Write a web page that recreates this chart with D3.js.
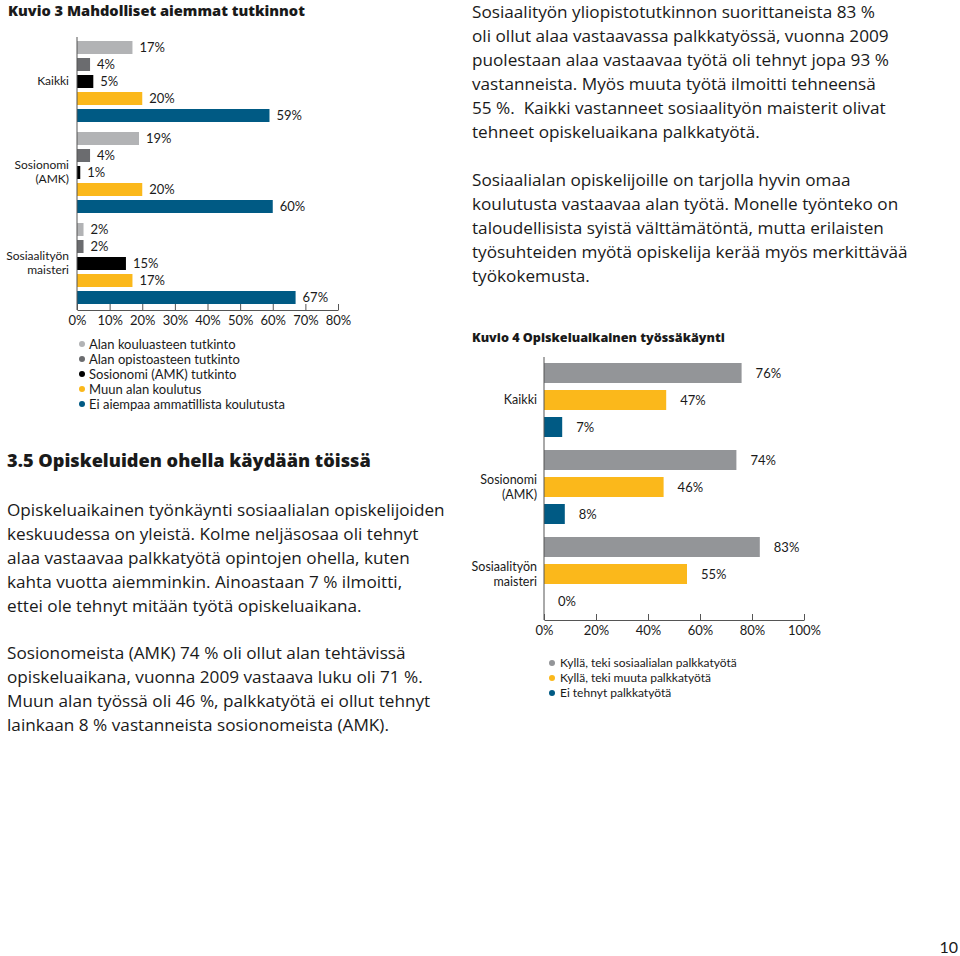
<!DOCTYPE html>
<html>
<head>
<meta charset="utf-8">
<script src="https://cdn.jsdelivr.net/npm/d3@7"></script>
<style>
  html, body { margin: 0; padding: 0; background: #fff; }
  svg { display: block; }
  text { font-family: Lato, "Noto Sans", sans-serif; fill: #1a1a1a; }
  .body { font-family: "Open Sans", "Noto Sans", sans-serif; }
</style>
</head>
<body>
<svg id="page" width="960" height="956"></svg>
<script>
// ---------- Data: Kuvio 3 ----------
const categories3 = [["Kaikki"], ["Sosionomi", "(AMK)"], ["Sosiaalityön", "maisteri"]];
const series3 = ["Alan kouluasteen tutkinto", "Alan opistoasteen tutkinto", "Sosionomi (AMK) tutkinto", "Muun alan koulutus", "Ei aiempaa ammatillista koulutusta"];
const valuesKaikki3 = [17, 4, 5, 20, 59];
const valuesSosionomi3 = [19, 4, 1, 20, 60];
const valuesMaisteri3 = [2, 2, 15, 17, 67];
const ticks3 = [0, 10, 20, 30, 40, 50, 60, 70, 80];
const colors3 = ["#b2b3b5", "#6b6c6f", "#000000", "#fbb81b", "#005a84"];

// ---------- Data: Kuvio 4 ----------
const categories4 = [["Kaikki"], ["Sosionomi", "(AMK)"], ["Sosiaalityön", "maisteri"]];
const series4 = ["Kyllä, teki sosiaalialan palkkatyötä", "Kyllä, teki muuta palkkatyötä", "Ei tehnyt palkkatyötä"];
const valuesKaikki4 = [76, 47, 7];
const valuesSosionomi4 = [74, 46, 8];
const valuesMaisteri4 = [83, 55, 0];
const ticks4 = [0, 20, 40, 60, 80, 100];
const colors4 = ["#939598", "#fbb81b", "#005a84"];

// ---------- Texts ----------
const title3 = "Kuvio 3 Mahdolliset aiemmat tutkinnot";
const title4 = "Kuvio 4 Opiskeluaikainen työssäkäynti";
const heading = "3.5 Opiskeluiden ohella käydään töissä";
const leftPara1 = ["Opiskeluaikainen työnkäynti sosiaalialan opiskelijoiden",
  "keskuudessa on yleistä. Kolme neljäsosaa oli tehnyt",
  "alaa vastaavaa palkkatyötä opintojen ohella, kuten",
  "kahta vuotta aiemminkin. Ainoastaan 7 % ilmoitti,",
  "ettei ole tehnyt mitään työtä opiskeluaikana."];
const leftPara2 = ["Sosionomeista (AMK) 74 % oli ollut alan tehtävissä",
  "opiskeluaikana, vuonna 2009 vastaava luku oli 71 %.",
  "Muun alan työssä oli 46 %, palkkatyötä ei ollut tehnyt",
  "lainkaan 8 % vastanneista sosionomeista (AMK)."];
const rightPara1 = ["Sosiaalityön yliopistotutkinnon suorittaneista 83 %",
  "oli ollut alaa vastaavassa palkkatyössä, vuonna 2009",
  "puolestaan alaa vastaavaa työtä oli tehnyt jopa 93 %",
  "vastanneista. Myös muuta työtä ilmoitti tehneensä",
  "55 %.  Kaikki vastanneet sosiaalityön maisterit olivat",
  "tehneet opiskeluaikana palkkatyötä."];
const rightPara2 = ["Sosiaalialan opiskelijoille on tarjolla hyvin omaa",
  "koulutusta vastaavaa alan työtä. Monelle työnteko on",
  "taloudellisista syistä välttämätöntä, mutta erilaisten",
  "työsuhteiden myötä opiskelija kerää myös merkittävää",
  "työkokemusta."];
const pageNumber = "10";

const svg = d3.select("#page");

// body font size: fitted once so the first body line is as wide as in the reference
const probe = svg.append("text").attr("class", "body").attr("font-size", 16).text(leftPara1[0]);
const bodySize = 16 * 438 / probe.node().getComputedTextLength();
probe.remove();

function para(lines, x, y, lh) {
  const t = svg.append("text").attr("class", "body").attr("font-size", bodySize).attr("xml:space", "preserve");
  lines.forEach((l, i) => t.append("tspan").attr("x", x).attr("y", y + i * lh).text(l));
}
function heading1(txt, x, y, fitWidth, color) {
  const t = svg.append("text").attr("class", "body").attr("x", x).attr("y", y).attr("font-size", 16)
    .attr("font-weight", 800).attr("fill", color || "#1a1a1a").text(txt);
  const w = t.node().getComputedTextLength();
  t.attr("font-size", 16 * fitWidth / w);
}

// ---------- Kuvio 3 ----------
heading1(title3, 8, 15.5, 297);

const data3 = [valuesKaikki3, valuesSosionomi3, valuesMaisteri3];
const x3 = d3.scaleLinear().domain([0, 80]).range([77, 338]);
const g3 = d3.scaleBand().domain(d3.range(3)).range([41, 41 + 273]);
const b3 = d3.scaleBand().domain(d3.range(5)).range([0, 81]).paddingInner(4 / 17);

const ch3 = svg.append("g");
data3.forEach((vals, gi) => {
  const grp = ch3.append("g").attr("transform", `translate(0,${g3(gi)})`);
  grp.selectAll("rect").data(vals).join("rect")
    .attr("x", x3(0)).attr("y", (d, i) => b3(i))
    .attr("width", d => x3(d) - x3(0)).attr("height", b3.bandwidth())
    .attr("fill", (d, i) => colors3[i]);
  grp.selectAll("text.v").data(vals).join("text").attr("class", "v")
    .attr("x", d => x3(d) + 7).attr("y", (d, i) => b3(i) + b3.bandwidth() / 2)
    .attr("dy", "0.35em").attr("font-size", 13).text(d => d + "%");
  const lines = categories3[gi];
  const lab = grp.append("text").attr("text-anchor", "end").attr("font-size", 12);
  lines.forEach((l, li) => {
    lab.append("tspan").attr("x", 69)
      .attr("y", 40 + (li - (lines.length - 1) / 2) * 14.5).attr("dy", "0.35em").text(l);
  });
});
ch3.append("line").attr("x1", x3(0)).attr("x2", x3(0)).attr("y1", 37).attr("y2", 310)
  .attr("stroke", "#555").attr("stroke-width", 1);
const ax3 = ch3.append("g").attr("transform", "translate(0,310)")
  .call(d3.axisBottom(x3).tickValues(ticks3).tickFormat(d => d + "%").tickSizeInner(-6).tickSizeOuter(0).tickPadding(6));
ax3.select(".domain").attr("stroke", "#555");
ax3.selectAll(".tick line").attr("stroke", "#555");
ax3.selectAll(".tick text").attr("font-size", 13).attr("font-family", "Lato, sans-serif").attr("fill", "#1a1a1a");

const leg3 = svg.append("g");
series3.forEach((s, i) => {
  const y = 348 + i * 15;
  leg3.append("circle").attr("cx", 82).attr("cy", y - 4).attr("r", 3).attr("fill", colors3[i]);
  leg3.append("text").attr("x", 89).attr("y", y).attr("dy", "0.1em").attr("font-size", 13).text(s);
});

// ---------- Right text ----------
para(rightPara1, 472, 17.5, 24);
para(rightPara2, 472, 185.5, 24);

// ---------- Kuvio 4 ----------
heading1(title4, 472, 342, 253);
const data4 = [valuesKaikki4, valuesSosionomi4, valuesMaisteri4];
const x4 = d3.scaleLinear().domain([0, 100]).range([544, 804]);
const g4 = d3.scaleBand().domain(d3.range(3)).range([363, 363 + 261]);
const b4 = d3.scaleBand().domain(d3.range(3)).range([0, 74]).paddingInner(7 / 27);
const ch4 = svg.append("g");
data4.forEach((vals, gi) => {
  const grp = ch4.append("g").attr("transform", `translate(0,${g4(gi)})`);
  grp.selectAll("rect").data(vals).join("rect")
    .attr("x", x4(0)).attr("y", (d, i) => b4(i))
    .attr("width", d => x4(d) - x4(0)).attr("height", b4.bandwidth())
    .attr("fill", (d, i) => colors4[i]);
  grp.selectAll("text.v").data(vals).join("text").attr("class", "v")
    .attr("x", d => x4(d) + 14).attr("y", (d, i) => b4(i) + b4.bandwidth() / 2)
    .attr("dy", "0.35em").attr("font-size", 13).text(d => d + "%");
  const lines = categories4[gi];
  const lab = grp.append("text").attr("text-anchor", "end").attr("font-size", 12.5);
  lines.forEach((l, li) => {
    lab.append("tspan").attr("x", 537)
      .attr("y", 37 + (li - (lines.length - 1) / 2) * 15).attr("dy", "0.35em").text(l);
  });
});
ch4.append("line").attr("x1", x4(0)).attr("x2", x4(0)).attr("y1", 357).attr("y2", 620)
  .attr("stroke", "#555").attr("stroke-width", 1);
const ax4 = ch4.append("g").attr("transform", "translate(0,620)")
  .call(d3.axisBottom(x4).tickValues(ticks4).tickFormat(d => d + "%").tickSizeInner(-6).tickSizeOuter(0).tickPadding(6));
ax4.select(".domain").attr("stroke", "#555");
ax4.selectAll(".tick line").attr("stroke", "#555");
ax4.selectAll(".tick text").attr("font-size", 13).attr("font-family", "Lato, sans-serif").attr("fill", "#1a1a1a");

const leg4 = svg.append("g");
series4.forEach((s, i) => {
  const y = 667 + i * 15;
  leg4.append("circle").attr("cx", 552).attr("cy", y - 4).attr("r", 3).attr("fill", colors4[i]);
  leg4.append("text").attr("x", 560).attr("y", y).attr("font-size", 12).text(s);
});

// ---------- Left text ----------
heading1(heading, 7, 467, 364, "#1b5a7a");
para(leftPara1, 7, 516, 24);
para(leftPara2, 7, 659, 24);

svg.append("text").attr("x", 958).attr("y", 953).attr("text-anchor", "end").attr("font-size", 16).text(pageNumber);
</script>
</body>
</html>
